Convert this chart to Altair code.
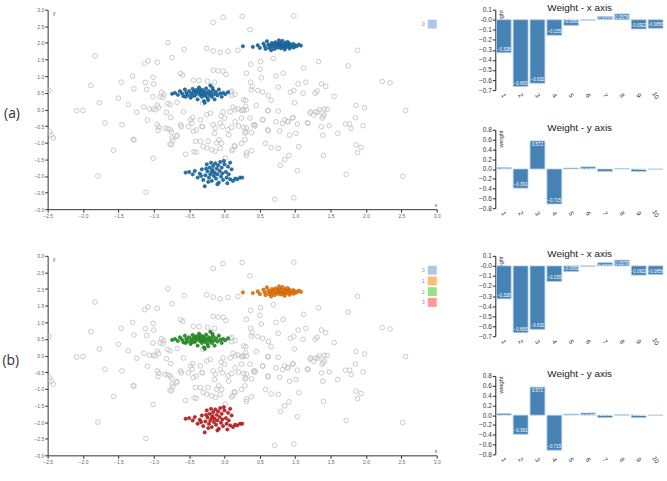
import altair as alt
import pandas as pd

# Hollow background samples in the 2-D projection (x, y)
gray_points = [
    (-2.48, 0.57), (-2.47, -0.67), (-2.45, -0.77), (-2.42, -0.86),
    (-2.09, -0.04), (-2.0, -0.03), (-1.89, 0.72), (-1.83, 1.61), (-1.77, 0.2),
    (-1.69, -0.41), (-1.57, -1.23), (-1.79, -2.0), (-1.5, 0.34), (-1.46, 0.82),
    (-1.45, -0.46), (-1.36, 0.15), (-1.3, 1.0), (-1.28, 0.62), (-1.29, -0.9),
    (-1.28, -0.92), (-1.24, -0.08), (-1.14, 0.07), (-1.13, 1.38), (-1.08, 1.46),
    (-1.12, 0.81), (-1.1, 0.6), (-1.09, -0.32), (-1.06, 0.01), (-1.01, 0.01),
    (-0.98, -0.01), (-1.01, 0.97), (-1.0, 0.77), (-1.01, 0.38), (-1.01, -1.47),
    (-1.11, -2.49), (-0.95, 1.42), (-0.95, 0.13), (-0.93, 0.06), (-0.93, -0.53),
    (-0.94, -0.63), (-0.89, 0.51), (-0.87, 0.36), (-0.86, 0.45), (-0.91, 0.38),
    (-0.82, -0.09), (-0.8, 2.01), (-0.8, 0.18), (-0.77, 0.14), (-0.76, -0.24),
    (-0.8, -0.58), (-0.75, -0.68), (-0.73, -0.93), (-0.75, -1.06), (-0.74, 1.56),
    (-0.67, -0.78), (-0.67, 0.21), (-0.62, 1.08), (-0.59, 1.03), (-0.61, -0.52),
    (-0.58, -0.07), (-0.57, 1.8), (-0.84, -0.56), (-0.77, -0.61), (-0.74, -0.86),
    (-0.77, -1.04), (-0.68, -0.81), (-0.62, -0.46), (-0.95, -0.46), (-0.51, -0.52),
    (-0.48, -0.31), (-0.46, -0.41), (-0.45, -0.24), (-0.4, -0.62), (-0.44, -0.66),
    (-0.55, -1.35), (-0.43, -1.27), (-0.4, -1.29), (-0.44, 0.88), (-0.24, 0.85),
    (-0.36, 0.87), (-0.31, 0.19), (-0.31, -0.52), (-0.34, -0.31), (-0.32, -0.51),
    (-0.41, -0.96), (-0.34, -0.96), (-0.3, -1.11), (-0.25, -1.16), (-0.18, -1.21),
    (-0.13, -1.26), (-0.11, -1.01), (-0.23, -0.96), (-0.08, -0.91), (-0.16, -0.46),
    (-0.13, -0.56), (-0.06, -0.41), (-0.02, -0.07), (0.08, -0.07), (0.15, -0.01),
    (0.05, -0.61), (0.1, -0.54), (-0.25, -0.16), (-0.2, -0.11), (0.0, -0.26),
    (0.15, -1.11), (0.12, -1.21), (-0.16, 1.76), (-0.25, 1.83), (-0.14, 0.82),
    (-0.14, -0.72), (-0.16, 1.18), (-0.09, 1.16), (-0.02, 1.15), (0.02, 1.05),
    (-0.06, -1.17), (-0.05, -0.2), (-0.03, -0.52), (-0.04, -1.02), (-0.06, 1.71),
    (0.05, 1.75), (0.19, 1.78), (-0.02, 2.77), (-0.16, 2.62), (0.01, -1.46),
    (0.1, 0.55), (0.15, 0.45), (0.25, 2.8), (0.98, 2.81), (0.36, 2.4),
    (0.69, 1.53), (0.51, 1.44), (0.5, 1.21), (0.37, 1.36), (0.31, 1.09),
    (0.52, 0.95), (0.73, 1.0), (0.83, 1.09), (1.12, 1.24), (1.33, 1.44),
    (1.75, 1.31), (1.88, 1.78), (0.37, 0.82), (0.39, 0.69), (0.38, 0.59),
    (0.47, 0.57), (0.54, 0.52), (0.62, 0.42), (0.66, 0.27), (0.76, 0.67),
    (0.93, 0.52), (0.98, 0.57), (1.04, 0.77), (1.15, 0.82), (1.11, 0.49),
    (1.28, 0.49), (1.31, 0.55), (1.37, 0.77), (1.43, 0.69), (1.55, 0.39),
    (0.99, 0.2), (0.08, 0.52), (0.1, 0.42), (0.27, 0.29), (0.3, 0.27),
    (0.3, 0.09), (0.27, -0.03), (0.12, 0.07), (0.19, 0.02), (0.24, -0.03),
    (0.45, 0.12), (0.62, -0.03), (0.76, -0.05), (0.54, -0.32), (0.41, -0.47),
    (0.43, -0.5), (0.15, -0.37), (0.2, -0.5), (0.27, -0.54), (0.3, -0.67),
    (0.38, -0.7), (0.62, -0.64), (0.78, -0.65), (0.73, -0.37), (0.82, -0.42),
    (0.9, -0.37), (0.97, -0.24), (1.03, -0.44), (0.92, -0.77), (1.01, -0.72),
    (1.18, -0.42), (1.21, -0.11), (1.26, -0.17), (1.32, -0.08), (1.39, -0.2),
    (1.45, 0.0), (1.37, -0.52), (1.39, -0.77), (1.48, -0.49), (1.6, -0.72),
    (1.71, -0.44), (1.77, -0.44), (1.79, -0.57), (1.85, -0.25), (1.86, 0.12),
    (1.98, 0.05), (1.96, -0.49), (2.23, 0.84), (2.34, 0.8), (2.56, -0.03),
    (0.58, -1.02), (0.66, -1.15), (0.76, -1.17), (1.05, -1.12), (0.91, -1.39),
    (0.85, -1.51), (0.79, -1.68), (1.03, -1.84), (1.4, -1.38), (1.86, -1.07),
    (1.93, -1.14), (1.88, -1.3), (1.72, -1.95), (2.52, -2.01), (0.71, -2.7),
    (0.98, -2.66), (0.14, -1.09), (0.1, -1.24), (0.06, -0.77), (0.31, -1.31),
    (0.38, -1.24), (0.24, -1.02), (0.31, -1.38), (0.29, -0.91), (0.29, -0.71),
    (0.31, -0.56), (1.17, -0.4), (1.22, -0.07), (1.29, -0.07), (1.34, -0.01),
    (1.41, 0.01), (1.38, -0.26), (1.41, -0.16), (0.61, -0.04), (0.85, -0.31),
    (0.89, -0.36), (0.96, -0.26), (0.54, -0.31), (0.43, -0.46), (0.61, -0.61),
    (0.26, -0.01), (0.31, -0.01), (0.24, -0.26), (0.36, -0.26),
]

# Selected samples, one list per group
group_top = [
    (0.26, 1.9), (0.4, 1.88), (0.47, 1.93), (0.5, 1.85), (0.55, 1.98), (0.57, 1.9),
    (0.6, 2.05), (0.62, 1.95), (0.63, 1.85), (0.65, 1.92), (0.67, 2.0), (0.68, 1.88),
    (0.7, 1.95), (0.71, 1.82), (0.72, 2.02), (0.74, 1.9), (0.75, 1.97), (0.76, 1.86),
    (0.78, 2.0), (0.79, 1.93), (0.8, 1.84), (0.81, 1.96), (0.82, 2.06), (0.83, 1.89),
    (0.84, 1.93), (0.85, 1.8), (0.86, 2.0), (0.87, 1.87), (0.88, 1.95), (0.9, 1.9),
    (0.91, 1.99), (0.92, 1.83), (0.93, 1.94), (0.95, 1.89), (0.97, 1.97), (0.98, 1.86),
    (1.0, 1.93), (1.02, 1.9), (1.05, 1.95), (1.08, 1.92), (0.58, 1.82), (0.66, 1.78),
    (0.73, 1.96), (0.77, 2.08), (0.89, 2.03),
]
group_mid = [
    (-0.74, 0.47), (-0.7, 0.5), (-0.66, 0.44), (-0.63, 0.55), (-0.6, 0.48), (-0.58, 0.4),
    (-0.56, 0.6), (-0.54, 0.5), (-0.52, 0.43), (-0.5, 0.55), (-0.48, 0.35), (-0.47, 0.47),
    (-0.45, 0.62), (-0.44, 0.52), (-0.42, 0.41), (-0.41, 0.57), (-0.4, 0.47), (-0.38, 0.3),
    (-0.37, 0.53), (-0.36, 0.66), (-0.35, 0.44), (-0.33, 0.5), (-0.32, 0.38), (-0.31, 0.58),
    (-0.3, 0.46), (-0.29, 0.25), (-0.28, 0.53), (-0.27, 0.41), (-0.26, 0.63), (-0.25, 0.48),
    (-0.24, 0.35), (-0.22, 0.55), (-0.21, 0.44), (-0.2, 0.72), (-0.19, 0.5), (-0.18, 0.38),
    (-0.16, 0.58), (-0.15, 0.45), (-0.14, 0.3), (-0.12, 0.52), (-0.1, 0.42), (-0.08, 0.6),
    (-0.06, 0.48), (-0.04, 0.38), (-0.02, 0.5), (0.01, 0.46), (0.05, 0.52), (-0.55, 0.38),
    (-0.46, 0.4), (-0.34, 0.6), (-0.23, 0.28), (-0.17, 0.65), (-0.39, 0.58), (-0.28, 0.2),
]
group_bottom = [
    (-0.55, -1.9), (-0.5, -1.88), (-0.45, -1.95), (-0.42, -1.85), (-0.38, -2.05),
    (-0.35, -1.93), (-0.32, -1.8), (-0.3, -2.12), (-0.28, -2.31), (-0.27, -1.98),
    (-0.25, -1.65), (-0.24, -1.86), (-0.22, -2.05), (-0.21, -1.75), (-0.2, -1.95),
    (-0.19, -1.6), (-0.18, -2.15), (-0.17, -1.82), (-0.16, -1.7), (-0.15, -2.0),
    (-0.14, -1.9), (-0.13, -1.62), (-0.12, -2.08), (-0.11, -1.78), (-0.1, -1.95),
    (-0.09, -1.68), (-0.08, -2.2), (-0.07, -1.85), (-0.06, -1.58), (-0.05, -2.02),
    (-0.04, -1.75), (-0.03, -1.92), (-0.02, -2.12), (0.0, -1.65), (0.02, -1.88),
    (0.03, -2.05), (0.05, -1.72), (0.06, -1.95), (0.08, -2.1), (0.1, -1.8),
    (0.12, -2.15), (0.15, -2.08), (0.18, -2.1), (0.22, -2.05), (0.25, -2.05),
    (-0.26, -1.78), (-0.23, -2.18), (-0.18, -1.88), (-0.1, -2.25), (-0.01, -1.55),
    (0.04, -2.22), (-0.33, -2.0), (0.08, -1.6),
]

# Linear-model weights per feature
features = [str(i) for i in range(1, 11)]
weights_x = [-0.328, -0.665, -0.632, -0.155, -0.0561, -0.00412, 0.0320, 0.0578, -0.0922, -0.0856]
weights_y = [0.0301, -0.391, 0.572, -0.715, 0.0192, 0.0437, -0.0496, 0.00803, -0.0512, -0.00267]

cluster_names = ["0", "1", "2", "3"]
cluster_light = ["#aec7e8", "#ffbb78", "#98df8a", "#ff9896"]
cluster_fill = ["#1f77b4", "#ff7f0e", "#2ca02c", "#d62728"]
cluster_edge = ["#144d78", "#a65300", "#196619", "#8a1718"]

x_ticks = [-2.5, -2.0, -1.5, -1.0, -0.5, 0.0, 0.5, 1.0, 1.5, 2.0, 2.5, 3.0]
y_ticks = [-3.0, -2.5, -2.0, -1.5, -1.0, -0.5, 0.0, 0.5, 1.0, 1.5, 2.0, 2.5, 3.0]
wx_ticks = [0.1, 0.0, -0.1, -0.2, -0.3, -0.4, -0.5, -0.6, -0.7]
wy_ticks = [0.8, 0.6, 0.4, 0.2, 0.0, -0.2, -0.4, -0.6, -0.8]

FONT = "Liberation Sans"
SC_W, SC_H = 392, 201
BAR_W = 170
KEY_TOP, KEY_STEP = 14.5, 10.8

gray_df = pd.DataFrame(gray_points, columns=["x", "y"])


def selection_frame(labels):
    rows = []
    for pts, lab in zip([group_top, group_mid, group_bottom], labels):
        rows += [{"x": px, "y": py, "cluster": lab} for px, py in pts]
    return pd.DataFrame(rows)


def scatter(label, sel_df, legend_names):
    xs = alt.Scale(domain=[-2.5, 3.0], nice=False, zero=False)
    ys = alt.Scale(domain=[-3.0, 3.0], nice=False, zero=False)
    common = dict(format=".1f", labelFontSize=5, labelColor="#666", tickSize=3,
                  tickColor="#333", domainColor="#333", grid=False, labelPadding=1,
                  labelOverlap=False, labelFlush=False,
                  titleFontSize=5, titleFontWeight="normal", titleColor="#444")
    x_axis = alt.Axis(values=x_ticks, title="x", titleX=SC_W, titleY=-2,
                      titleAlign="right", titleBaseline="bottom", **common)
    y_axis = alt.Axis(values=y_ticks, title="y", titleX=5, titleY=1, titleAngle=0,
                      titleAlign="left", titleBaseline="top", **common)
    x_enc = alt.X("x:Q", scale=xs, axis=x_axis)
    y_enc = alt.Y("y:Q", scale=ys, axis=y_axis)
    bg = alt.Chart(gray_df).mark_point(
        shape="circle", filled=False, size=22, stroke="#c4c4c4", strokeWidth=0.9, opacity=1
    ).encode(x=x_enc, y=y_enc)
    pts = alt.Chart(sel_df).mark_point(
        shape="circle", filled=True, size=11, strokeWidth=0.6, opacity=1
    ).encode(
        x=x_enc, y=y_enc,
        fill=alt.Fill("cluster:N", scale=alt.Scale(domain=cluster_names, range=cluster_fill), legend=None),
        stroke=alt.Stroke("cluster:N", scale=alt.Scale(domain=cluster_names, range=cluster_edge), legend=None),
    )

    # key: swatch on the right, its label to the left
    n = len(legend_names)
    key_df = pd.DataFrame({"cluster": legend_names, "row": list(range(n))})
    row_y = alt.Y("row:Q", axis=None,
                  scale=alt.Scale(domain=[0, 10], range=[KEY_TOP, KEY_TOP + 10 * KEY_STEP]))
    swatch = alt.Chart(key_df).mark_square(size=81, opacity=1).encode(
        x=alt.value(SC_W - 4.5), y=row_y,
        color=alt.Color("cluster:N", legend=None,
                        scale=alt.Scale(domain=cluster_names, range=cluster_light)),
    )
    key_text = alt.Chart(key_df).mark_text(
        align="right", baseline="middle", fontSize=5, color="#888", font=FONT
    ).encode(x=alt.value(SC_W - 12), y=row_y, text="cluster:N")
    key = alt.layer(swatch, key_text)

    return alt.layer(alt.layer(bg, pts), key).resolve_scale(y="independent").properties(
        width=SC_W, height=SC_H,
        title=alt.TitleParams(label, orient="left", angle=0, align="right", baseline="middle",
                              anchor="middle", fontSize=14, font="Open Sans",
                              fontWeight="normal", color="#333", offset=-2, dy=5),
    )


def weight_chart(values, title, domain, ticks, height, zero_text):
    df = pd.DataFrame({"feature": features, "weight": values})
    base = alt.Chart(df).transform_calculate(label="format(datum.weight, '.3r')")
    label_expr = "datum.value == 0 ? '%s' : format(datum.value, '.1f')" % zero_text
    x = alt.X("feature:N", sort=features, scale=alt.Scale(paddingInner=0.12, paddingOuter=0.06),
              axis=alt.Axis(title=None, labelAngle=60, domain=False, ticks=False,
                            labelFontSize=6.5, labelPadding=5, labelAlign="center",
                            labelBaseline="middle", labelColor="#333"))
    y = alt.Y("weight:Q", scale=alt.Scale(domain=domain, nice=False),
              axis=alt.Axis(values=ticks, labelExpr=label_expr, labelFontSize=6.5,
                            labelColor="#333", tickSize=3, tickColor="#222",
                            domainColor="#222", grid=False, labelPadding=1,
                            labelOverlap=False, labelFlush=False,
                            title="weight", titleAngle=270, titleX=2, titleY=0,
                            titleAlign="right", titleBaseline="top", titleFontSize=6,
                            titleFontWeight="normal", titleColor="#333"))
    bars = base.mark_bar(color="#4682b4", stroke="#b3d0ea", strokeWidth=0.8).encode(x=x, y=y)
    neg = base.transform_filter("datum.weight < 0").mark_text(
        baseline="bottom", dy=-1, fontSize=4.5, color="white"
    ).encode(x=x, y=y, text="label:N")
    pos = base.transform_filter("datum.weight >= 0").mark_text(
        baseline="top", dy=1, fontSize=4.5, color="white"
    ).encode(x=x, y=y, text="label:N")
    return alt.layer(bars, neg, pos).properties(
        width=BAR_W, height=height,
        title=alt.TitleParams(title, fontSize=10, fontWeight="normal", font=FONT,
                              color="#222", anchor="middle", offset=-6),
    )


def panel(label, labels, legend_names):
    sc = scatter(label, selection_frame(labels), legend_names)
    col = alt.vconcat(
        weight_chart(weights_x, "Weight - x axis", [-0.7, 0.1], wx_ticks, 81, "-0.0"),
        weight_chart(weights_y, "Weight - y axis", [-0.8, 0.8], wy_ticks, 79, "0.0"),
        spacing=23,
    )
    return alt.hconcat(sc, col, spacing=38)


panel_a = panel("(a)", ["0", "0", "0"], ["0"])
panel_b = panel("(b)", ["1", "2", "3"], cluster_names)

chart = alt.vconcat(panel_a, panel_b, spacing=31).properties(
    padding={"left": 2, "top": 1, "right": 2, "bottom": 2}
).configure_view(stroke=None).configure_axis(
    labelFont=FONT, titleFont=FONT, labelOverlap=False
).configure_title(font=FONT)

chart.save("out.html", embed_options={"renderer": "svg", "actions": False})
